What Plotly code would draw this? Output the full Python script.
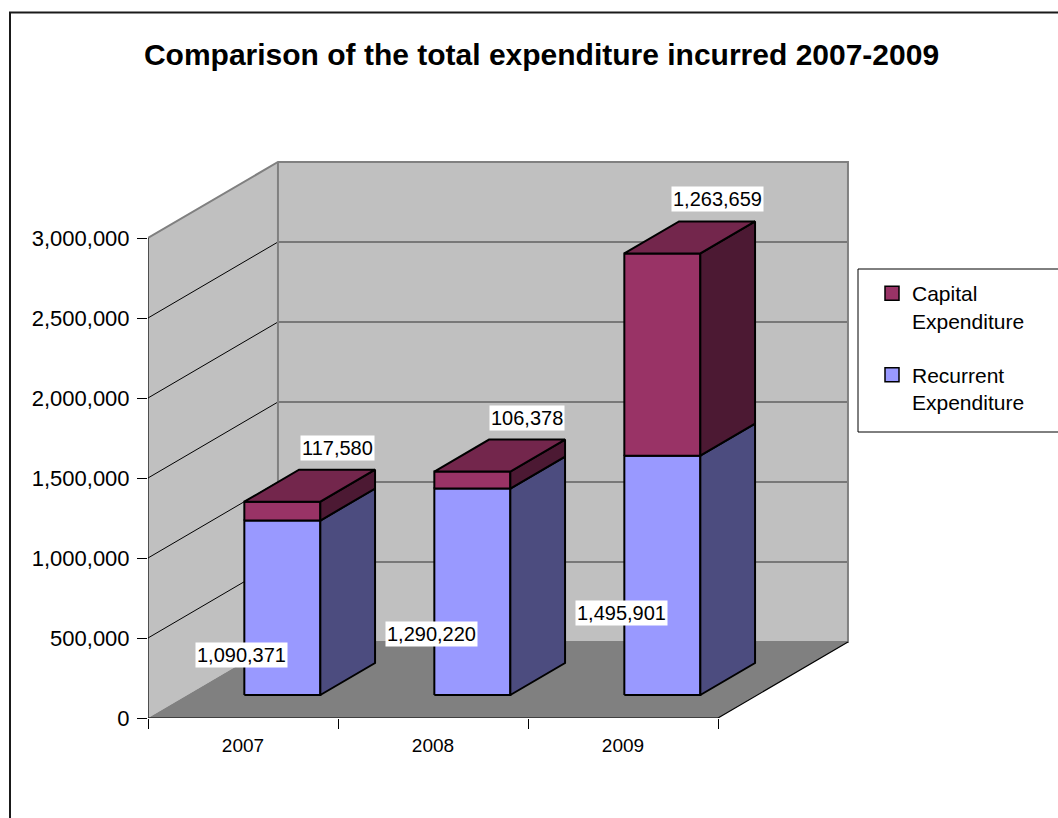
import plotly.graph_objects as go

# ---- data -------------------------------------------------------------
years = ["2007", "2008", "2009"]
recurrent = [1090371, 1290220, 1495901]
capital = [117580, 106378, 1263659]
y_tick_vals = [0, 500000, 1000000, 1500000, 2000000, 2500000, 3000000]
y_tick_text = ["0", "500,000", "1,000,000", "1,500,000", "2,000,000", "2,500,000", "3,000,000"]

# ---- styling / projection ---------------------------------------------
W, H = 1058, 818
FONT = "Liberation Sans, Arial, sans-serif"
WALL = "#C0C0C0"
FLOOR = "#808080"
EDGE = "#808080"
REC_FRONT, REC_SIDE = "#9999FF", "#4C4C7F"
CAP_FRONT, CAP_SIDE, CAP_TOP = "#993366", "#4C1933", "#73264C"

DEPTH_X = 0.684        # oblique depth offset along x (category units)
DEPTH_Y = 475000       # oblique depth offset along y (value units)
BAR_FRONT = 0.3026     # depth fraction of bar front plane
BAR_BACK = 0.7237      # depth fraction of bar back plane
BAR_W = 0.4
Y_MAX = y_tick_vals[-1]
X0, X1 = -0.5, len(years) - 0.5

# value-label placement for the lower segment
LABEL_SLOPE = 0.647
LABEL_PIVOT = 700000

fig = go.Figure()


def poly(xs, ys, fill, line_color=None, line_width=0):
    xs = list(xs) + [xs[0]]
    ys = list(ys) + [ys[0]]
    fig.add_trace(go.Scatter(
        x=xs, y=ys, mode="lines", fill="toself", fillcolor=fill,
        line=dict(color=line_color or fill, width=line_width),
        hoverinfo="skip", showlegend=False))


def seg(xs, ys, color, width):
    fig.add_trace(go.Scatter(
        x=xs, y=ys, mode="lines", line=dict(color=color, width=width),
        hoverinfo="skip", showlegend=False))


# walls and floor
poly([X0, X0, X0 + DEPTH_X, X0 + DEPTH_X], [0, Y_MAX, Y_MAX + DEPTH_Y, DEPTH_Y], WALL)
poly([X0 + DEPTH_X, X0 + DEPTH_X, X1 + DEPTH_X, X1 + DEPTH_X],
     [DEPTH_Y, Y_MAX + DEPTH_Y, Y_MAX + DEPTH_Y, DEPTH_Y], WALL)
poly([X0, X1, X1 + DEPTH_X, X0 + DEPTH_X], [0, 0, DEPTH_Y, DEPTH_Y], FLOOR)

# gridlines on side wall and back wall
for v in y_tick_vals[1:-1]:
    seg([X0, X0 + DEPTH_X], [v, v + DEPTH_Y], "black", 1)
    seg([X0 + DEPTH_X, X1 + DEPTH_X], [v + DEPTH_Y, v + DEPTH_Y], "#303030", 1.2)

# wall edges
seg([X0, X0 + DEPTH_X, X1 + DEPTH_X, X1 + DEPTH_X, X0 + DEPTH_X],
    [Y_MAX, Y_MAX + DEPTH_Y, Y_MAX + DEPTH_Y, DEPTH_Y, DEPTH_Y], EDGE, 2)
seg([X0 + DEPTH_X, X0 + DEPTH_X], [DEPTH_Y, Y_MAX + DEPTH_Y], EDGE, 2)
# floor front and right edges
seg([X0, X1, X1 + DEPTH_X], [0, 0, DEPTH_Y], "black", 1.2)
# value axis line
seg([X0, X0], [0, Y_MAX], "black", 1.2)

# bars
ddx = (BAR_BACK - BAR_FRONT) * DEPTH_X
ddy = (BAR_BACK - BAR_FRONT) * DEPTH_Y
y0 = BAR_FRONT * DEPTH_Y
OUT = "black"
OW = 2
for i in range(len(years)):
    xl = i - BAR_W / 2 + BAR_FRONT * DEPTH_X
    xr = xl + BAR_W
    segments = [(0, recurrent[i], REC_FRONT, REC_SIDE, None),
                (recurrent[i], recurrent[i] + capital[i], CAP_FRONT, CAP_SIDE, CAP_TOP)]
    for b, t, front, side, top in segments:
        poly([xl, xr, xr, xl], [b + y0, b + y0, t + y0, t + y0], front, OUT, OW)
        poly([xr, xr + ddx, xr + ddx, xr],
             [b + y0, b + y0 + ddy, t + y0 + ddy, t + y0], side, OUT, OW)
        if top:
            poly([xl, xr, xr + ddx, xl + ddx],
                 [t + y0, t + y0, t + y0 + ddy, t + y0 + ddy], top, OUT, OW)

# value labels
annotations = []
for i in range(len(years)):
    total = recurrent[i] + capital[i]
    annotations.append(dict(
        x=i + BAR_BACK * DEPTH_X, y=total + BAR_BACK * DEPTH_Y,
        text=f"{capital[i]:,}", showarrow=False, yanchor="bottom", yshift=9,
        bgcolor="white", borderpad=1, font=dict(family=FONT, size=20, color="black")))
    annotations.append(dict(
        x=i - 0.01, y=y0 + LABEL_SLOPE * (recurrent[i] - LABEL_PIVOT),
        text=f"{recurrent[i]:,}", showarrow=False, yanchor="middle",
        bgcolor="white", borderpad=1, font=dict(family=FONT, size=20, color="black")))

# legend entries
fig.add_trace(go.Scatter(
    x=[None], y=[None], mode="markers", name="Capital<br>Expenditure",
    legendgroup="cap",
    marker=dict(symbol="square", size=14, color=CAP_FRONT, line=dict(color="black", width=1.5))))
fig.add_trace(go.Scatter(
    x=[None], y=[None], mode="markers", name="Recurrent<br>Expenditure",
    legendgroup="rec",
    marker=dict(symbol="square", size=14, color=REC_FRONT, line=dict(color="black", width=1.5))))

x_px = (X0, X0 + (851 - 148) / 190)
fig.update_layout(
    width=W, height=H,
    margin=dict(l=0, r=0, t=0, b=0),
    paper_bgcolor="white", plot_bgcolor="white",
    title=dict(text="Comparison of the total expenditure incurred 2007-2009",
               x=541.5 / W, xanchor="center", y=1 - 54 / H, yanchor="middle",
               font=dict(family=FONT, size=30, color="black", weight="bold")),
    xaxis=dict(domain=[148 / W, 851 / W], range=list(x_px),
               tickvals=list(range(len(years))), ticktext=years, ticks="",
               ticklabelstandoff=14,
               minor=dict(tickvals=[X0 + k for k in range(len(years) + 1)],
                          ticks="outside", ticklen=10, tickcolor="black", tickwidth=1),
               showgrid=False, zeroline=False, showline=False, automargin=False,
               tickfont=dict(family=FONT, size=19, color="black"), fixedrange=True),
    yaxis=dict(domain=[100 / H, 660 / H], range=[0, 3500000],
               tickvals=y_tick_vals, ticktext=y_tick_text, ticks="outside",
               ticklen=10, tickcolor="black", tickwidth=1, ticklabelstandoff=3,
               showgrid=False, zeroline=False, showline=False, automargin=False,
               tickfont=dict(family=FONT, size=22, color="black"), fixedrange=True),
    legend=dict(x=858 / W, y=1 - 273 / H, xanchor="left", yanchor="top",
                borderwidth=0, bgcolor="rgba(0,0,0,0)",
                font=dict(family=FONT, size=21, color="black"),
                tracegroupgap=24, valign="top", indentation=14),
    annotations=annotations,
    shapes=[dict(type="rect", xref="paper", yref="paper",
                 x0=10 / W, x1=1.2, y0=-0.2, y1=1 - 12.5 / H,
                 line=dict(color="#1a1a1a", width=2), layer="below"),
            dict(type="rect", xref="paper", yref="paper",
                 x0=858 / W, x1=1.1, y0=1 - 432 / H, y1=1 - 269 / H,
                 fillcolor="white", line=dict(color="black", width=1), layer="above")],
    showlegend=True,
)

fig.write_html("out.html")
